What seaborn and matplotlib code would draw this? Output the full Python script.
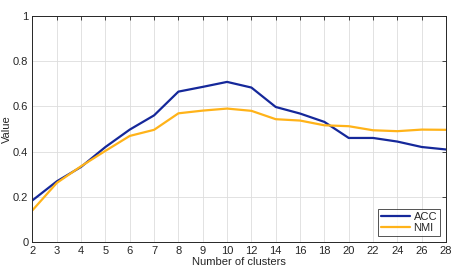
import matplotlib
matplotlib.use("Agg")
import matplotlib.pyplot as plt
import seaborn as sns
import pandas as pd

clusters = ["2", "3", "4", "5", "6", "7", "8", "9", "10", "12", "14", "16", "18", "20", "22", "24", "26", "28"]
acc = [0.184, 0.268, 0.332, 0.420, 0.497, 0.560, 0.665, 0.686, 0.708, 0.683, 0.597, 0.568, 0.531, 0.460, 0.460, 0.444, 0.420, 0.409]
nmi = [0.140, 0.261, 0.335, 0.403, 0.469, 0.496, 0.569, 0.581, 0.590, 0.580, 0.543, 0.537, 0.516, 0.512, 0.494, 0.490, 0.497, 0.496]

df = pd.DataFrame({
    "Number of clusters": clusters * 2,
    "Value": acc + nmi,
    "Metric": ["ACC"] * len(clusters) + ["NMI"] * len(clusters),
})

sns.set_style("white")
plt.rcParams["font.family"] = ["Liberation Sans", "DejaVu Sans"]

fig = plt.figure(figsize=(4.57, 2.74), dpi=100)
ax = fig.add_axes([0.071, 0.117, 0.905, 0.825])
sns.lineplot(data=df, x="Number of clusters", y="Value", hue="Metric",
             palette={"ACC": "#15289a", "NMI": "#ffb319"}, linewidth=1.6, ax=ax,
             sort=False)

ax.set_xlim(0, len(clusters) - 1)
ax.set_ylim(0, 1)
ax.set_yticks([0, 0.2, 0.4, 0.6, 0.8, 1])
ax.set_yticklabels(["0", "0.2", "0.4", "0.6", "0.8", "1"])
ax.grid(True, color="#dddddd", linewidth=0.6)
ax.tick_params(direction="in", top=True, right=True, length=3, width=0.6,
               labelsize=8, colors="#262626", pad=3)
for s in ax.spines.values():
    s.set_color("#262626")
    s.set_linewidth(0.7)
ax.set_xlabel("Number of clusters", fontsize=8, color="#262626", labelpad=1)
ax.set_ylabel("Value", fontsize=8, color="#262626")
ax.yaxis.set_label_coords(-0.050, 0.5)
leg = ax.legend(loc="lower right", fontsize=8, frameon=True, fancybox=False,
                edgecolor="#262626", handlelength=2.6, handletextpad=0.3,
                borderpad=0.3, labelspacing=0.1, borderaxespad=0.5)
leg.get_frame().set_linewidth(0.7)
fig.savefig("out.png", dpi=100)
